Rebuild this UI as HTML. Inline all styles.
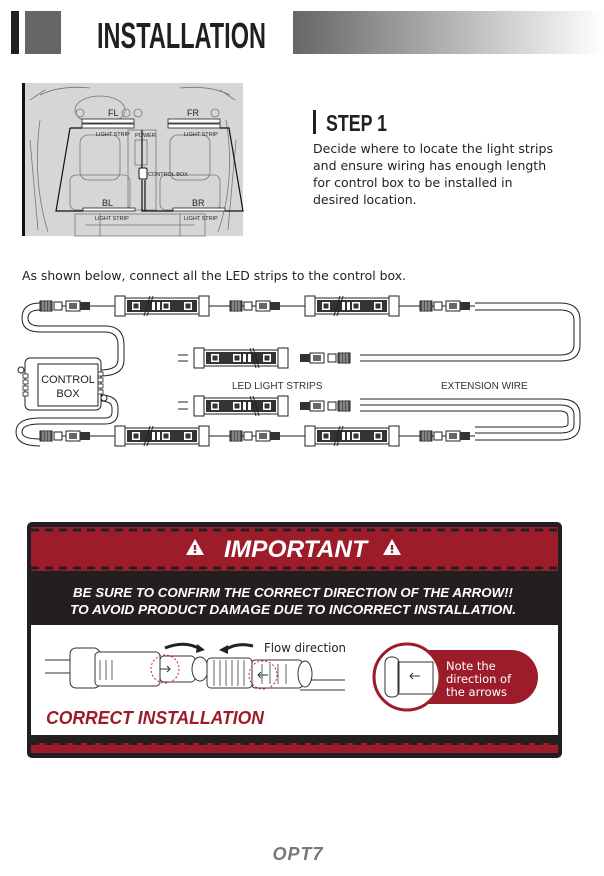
<!DOCTYPE html>
<html><head><meta charset="utf-8"><style>
html,body{margin:0;padding:0;background:#fff;width:604px;height:876px;overflow:hidden}
svg{display:block}
</style></head><body>
<svg width="604" height="876" viewBox="0 0 604 876" xmlns="http://www.w3.org/2000/svg">
<defs>
<linearGradient id="hg" x1="0" x2="1" y1="0" y2="0"><stop offset="0" stop-color="#666"/><stop offset="1" stop-color="#fff"/></linearGradient>
<g id="strip">
 <rect x="0" y="-8" width="88" height="16" fill="#fff" stroke="#222" stroke-width="1"/>
 <rect x="9" y="-6" width="70" height="12" fill="#333"/>
 <rect x="14" y="-4" width="8" height="8" fill="#fff"/><rect x="15.5" y="-2.5" width="5" height="5" fill="#333"/>
 <rect x="34" y="-4" width="3" height="8" fill="#fff"/><rect x="39" y="-4" width="3" height="8" fill="#fff"/>
 <rect x="44" y="-4" width="8" height="8" fill="#fff"/><rect x="45.5" y="-2.5" width="5" height="5" fill="#333"/>
 <rect x="66" y="-4" width="8" height="8" fill="#fff"/><rect x="67.5" y="-2.5" width="5" height="5" fill="#333"/>
 <path d="M26 10 L32 -10 M29 10 L35 -10" stroke="#222" stroke-width="1" fill="none"/>
 <rect x="-3" y="-10" width="10" height="20" fill="#fff" stroke="#222"/>
 <rect x="81" y="-10" width="10" height="20" fill="#fff" stroke="#222"/>
</g>
<g id="conn">
 <rect x="0" y="-5" width="12" height="10" fill="#555" stroke="#222"/>
 <path d="M3 -5v10M6 -5v10M9 -5v10" stroke="#ccc" stroke-width=".8"/>
 <rect x="14" y="-4" width="8" height="8" fill="#fff" stroke="#222"/>
 <rect x="26" y="-5" width="14" height="10" fill="#fff" stroke="#222"/>
 <rect x="29" y="-3" width="8" height="6" fill="#666"/>
 <rect x="40" y="-4" width="10" height="8" fill="#333"/>
</g>
<g id="warn"><path d="M0 -9 L9 7 L-9 7Z" fill="#fff"/><rect x="-1.2" y="-3" width="2.4" height="5" fill="#9d1c2a"/><rect x="-1.2" y="3" width="2.4" height="2.2" fill="#9d1c2a"/></g>
</defs>

<!-- header -->
<rect x="11" y="11" width="8" height="43" fill="#231f20"/>
<rect x="25" y="11" width="36" height="43" fill="#666"/>
<text x="97" y="48" font-family="Liberation Sans, sans-serif" font-weight="bold" font-size="36" fill="#231f20" textLength="169" lengthAdjust="spacingAndGlyphs">INSTALLATION</text>
<rect x="293" y="11" width="311" height="43" fill="url(#hg)"/>

<!-- car -->
<rect x="22" y="83" width="221" height="153" fill="#d6d6d6"/>
<rect x="22" y="83" width="3" height="153" fill="#111"/>
<g stroke="#777" stroke-width=".8" fill="none">
 <path d="M40 95 Q60 85 90 88 M180 88 Q210 85 230 95 M30 100 L45 90 M235 100 L220 90"/>
 <ellipse cx="100" cy="110" rx="25" ry="14"/>
 <circle cx="126" cy="113" r="4"/><circle cx="138" cy="113" r="4"/><circle cx="80" cy="113" r="4"/><circle cx="215" cy="113" r="4"/>
 <rect x="80" y="135" width="40" height="45" rx="8"/><rect x="170" y="135" width="40" height="45" rx="8"/>
 <rect x="70" y="175" width="60" height="35" rx="6"/><rect x="160" y="175" width="60" height="35" rx="6"/>
 <rect x="128" y="130" width="28" height="80"/><rect x="135" y="140" width="12" height="25"/>
 <path d="M40 120 Q32 180 48 232 M226 120 Q236 180 218 232 M30 140 L38 230 M236 140 L228 230"/>
 <rect x="75" y="214" width="130" height="22"/>
 <path d="M85 225 H195 M100 214 v22 M180 214 v22"/>
</g>
<g fill="#fff" stroke="#222" stroke-width=".8">
 <rect x="82" y="119" width="52" height="4"/><rect x="82" y="124" width="52" height="4"/>
 <rect x="168" y="119" width="52" height="4"/><rect x="168" y="124" width="52" height="4"/>
 <rect x="83" y="208" width="52" height="3"/><rect x="173" y="208" width="52" height="3"/>
</g>
<path d="M70 128 L82 128 M70 128 L56 211 L83 211 M220 128 L229 128 L243 211 L225 211 M142 130 L142 168 M142 180 L142 211 L173 211 M145 180 L145 211" stroke="#111" stroke-width="1.2" fill="none"/>
<rect x="139" y="168" width="8" height="11" rx="1.5" fill="#fff" stroke="#111"/>
<g font-family="Liberation Sans, sans-serif" fill="#222">
 <text x="108" y="116" font-size="9">FL</text><text x="187" y="116" font-size="9">FR</text>
 <text x="96" y="136" font-size="5.5">LIGHT STRIP</text><text x="184" y="136" font-size="5.5">LIGHT STRIP</text>
 <text x="135" y="137" font-size="5.5">POWER</text><text x="148" y="176" font-size="5.5">CONTROL BOX</text>
 <text x="102" y="206" font-size="9">BL</text><text x="192" y="206" font-size="9">BR</text>
 <text x="95" y="220" font-size="5.5">LIGHT STRIP</text><text x="184" y="220" font-size="5.5">LIGHT STRIP</text>
</g>

<!-- step 1 -->
<rect x="313" y="110" width="3" height="24" fill="#231f20"/>
<text x="326" y="131" font-family="Liberation Sans, sans-serif" font-weight="bold" font-size="23" fill="#231f20" textLength="61" lengthAdjust="spacingAndGlyphs">STEP 1</text>
<g font-family="DejaVu Sans, sans-serif" font-size="12.5" fill="#231f20">
 <text x="313" y="153" textLength="240" lengthAdjust="spacingAndGlyphs">Decide where to locate the light strips</text>
 <text x="313" y="170">and ensure wiring has enough length</text>
 <text x="313" y="187">for control box to be installed in</text>
 <text x="313" y="204">desired location.</text>
</g>
<text x="22" y="280" font-family="DejaVu Sans, sans-serif" font-size="12.5" fill="#231f20" textLength="384" lengthAdjust="spacingAndGlyphs">As shown below, connect all the LED strips to the control box.</text>

<!-- wiring diagram -->
<g fill="none" stroke="#222" stroke-width="1">
 <path d="M40 303 Q22 303 22 318 Q22 332 40 332 L105 332 Q118 332 118 345 L118 360 Q118 370 100 370"/>
 <path d="M40 310 Q28 310 28 318 Q28 326 40 326 L105 326 Q124 326 124 345 L124 360 Q124 376 100 376"/>
 <path d="M100 395 Q118 395 118 408 L118 412 Q118 424 105 424 L40 424 Q22 424 22 432 Q22 439 40 439"/>
 <path d="M100 401 Q112 401 112 408 L112 412 Q112 418 105 418 L40 418 Q16 418 16 432 Q16 446 40 446"/>
 <path d="M475 303 L560 303 Q580 303 580 320 L580 345 Q580 361 560 361 L360 361"/>
 <path d="M475 310 L560 310 Q574 310 574 320 L574 345 Q574 355 560 355 L360 355"/>
 <path d="M360 405 L560 405 Q574 405 574 415 L574 425 Q574 433 560 433 L475 433"/>
 <path d="M360 411 L560 411 Q568 411 568 418 L568 424 Q568 427 560 427 L475 427 M475 440 L560 440 Q580 440 580 424 L580 415 Q580 399 560 399 L360 399"/>
 <path d="M178 355 L188 355 M178 361 L188 361 M178 402 L188 402 M178 409 L188 409"/>
 <path d="M60 306 L115 306 M203 306 L305 306 M393 306 L475 306 M60 436 L115 436 M203 436 L305 436 M393 436 L475 436"/>
</g>
<rect x="25" y="358" width="76" height="52" rx="5" fill="#fff" stroke="#222"/>
<rect x="38" y="364" width="60" height="42" fill="#fff" stroke="#222"/>
<circle cx="21" cy="370" r="3" fill="#fff" stroke="#222"/><circle cx="104" cy="398" r="3" fill="#fff" stroke="#222"/>
<g fill="#fff" stroke="#222" stroke-width=".8"><rect x="23" y="374" width="5" height="4"/><rect x="23" y="380" width="5" height="4"/><rect x="23" y="386" width="5" height="4"/><rect x="23" y="392" width="5" height="4"/><rect x="98" y="372" width="5" height="4"/><rect x="98" y="378" width="5" height="4"/><rect x="98" y="384" width="5" height="4"/><rect x="98" y="390" width="5" height="4"/></g>
<text x="68" y="383" text-anchor="middle" font-family="Liberation Sans, sans-serif" font-size="11" fill="#222">CONTROL</text>
<text x="68" y="397" text-anchor="middle" font-family="Liberation Sans, sans-serif" font-size="11" fill="#222">BOX</text>

<use href="#conn" x="40" y="306"/><use href="#conn" x="230" y="306"/><use href="#conn" x="420" y="306"/>
<use href="#conn" x="40" y="436"/><use href="#conn" x="230" y="436"/><use href="#conn" x="420" y="436"/>
<use href="#conn" transform="translate(350,358) scale(-1,1)" /><use href="#conn" transform="translate(350,406) scale(-1,1)"/>
<use href="#strip" x="118" y="306"/><use href="#strip" x="308" y="306"/>
<use href="#strip" x="118" y="436"/><use href="#strip" x="308" y="436"/>
<use href="#strip" transform="translate(285,358) scale(-1,1)"/><use href="#strip" transform="translate(285,406) scale(-1,1)"/>
<text x="232" y="389" font-family="Liberation Sans, sans-serif" font-size="10" fill="#333">LED LIGHT STRIPS</text>
<text x="441" y="389" font-family="Liberation Sans, sans-serif" font-size="10" fill="#333">EXTENSION WIRE</text>

<!-- important box -->
<rect x="27" y="522" width="535" height="236" rx="5" fill="#231f20"/>
<rect x="31" y="527" width="527" height="44" fill="#9d1c2a"/>
<path d="M31 530 H558 M31 568 H558" stroke="#231f20" stroke-width="3" stroke-dasharray="8 6"/>
<use href="#warn" x="195" y="548"/><use href="#warn" x="392" y="548"/>
<text x="224" y="557" font-family="Liberation Sans, sans-serif" font-weight="bold" font-style="italic" font-size="24" fill="#fff" textLength="143" lengthAdjust="spacingAndGlyphs">IMPORTANT</text>
<g font-family="Liberation Sans, sans-serif" font-weight="bold" font-style="italic" font-size="13.3" fill="#fff">
 <text x="73" y="597" textLength="440" lengthAdjust="spacingAndGlyphs">BE SURE TO CONFIRM THE CORRECT DIRECTION OF THE ARROW!!</text>
 <text x="70" y="614" textLength="446" lengthAdjust="spacingAndGlyphs">TO AVOID PRODUCT DAMAGE DUE TO INCORRECT INSTALLATION.</text>
</g>
<rect x="31" y="625" width="527" height="110" fill="#fff"/>
<rect x="31" y="743" width="527" height="10" fill="#9d1c2a"/>
<path d="M31 744 H558" stroke="#231f20" stroke-width="2" stroke-dasharray="8 6"/>
<g fill="#fff" stroke="#333" stroke-width="1">
 <path d="M45 660 H75 M45 673 H75 M300 680 H345 M300 690 H345"/>
 <rect x="70" y="648" width="30" height="40" rx="6"/>
 <rect x="95" y="652" width="65" height="34" rx="4"/>
 <rect x="160" y="656" width="35" height="26" rx="4"/>
 <ellipse cx="200" cy="669" rx="8" ry="12"/>
 <rect x="207" y="658" width="45" height="30" rx="4"/>
 <rect x="252" y="660" width="50" height="28" rx="3"/>
 <ellipse cx="305" cy="674" rx="7" ry="13"/>
</g>
<g stroke="#666" stroke-width="1"><path d="M100 660v20M106 660v20M112 660v20M214 660v26M220 660v26M226 660v26M232 660v26M238 660v26M244 660v26M262 664v20M270 664v20M278 664v20M286 664v20"/></g>
<circle cx="165" cy="669" r="14" fill="none" stroke="#c23" stroke-dasharray="2 2"/>
<circle cx="263" cy="675" r="14" fill="none" stroke="#c23" stroke-dasharray="2 2"/>
<path d="M160 669 h10 M167 666 l3 3 -3 3 M268 675 h-10 M261 672 l-3 3 3 3" stroke="#333" fill="none"/>
<path d="M165 648 Q185 640 200 649" stroke="#222" stroke-width="3" fill="none"/><path d="M197 644 L205 650 L196 653Z" fill="#222"/>
<path d="M253 646 Q237 642 225 650" stroke="#222" stroke-width="3" fill="none"/><path d="M228 645 L219 650 L228 654Z" fill="#222"/>
<text x="264" y="652" font-family="DejaVu Sans, sans-serif" font-size="12.5" fill="#231f20" textLength="82" lengthAdjust="spacingAndGlyphs">Flow direction</text>
<text x="46" y="724" font-family="Liberation Sans, sans-serif" font-weight="bold" font-style="italic" font-size="18" fill="#9d1c2a" textLength="218" lengthAdjust="spacingAndGlyphs">CORRECT INSTALLATION</text>
<rect x="400" y="650" width="138" height="54" rx="27" fill="#9d1c2a"/>
<circle cx="407" cy="677" r="33" fill="#fff" stroke="#9d1c2a" stroke-width="3"/>
<g stroke="#333" fill="none"><rect x="385" y="657" width="14" height="40" rx="6"/><rect x="398" y="662" width="35" height="32"/><path d="M420 676 h-10 M413 673 l-3 3 3 3"/></g>
<g font-family="DejaVu Sans, sans-serif" font-size="11.5" fill="#fff">
 <text x="446" y="670">Note the</text><text x="446" y="683">direction of</text><text x="446" y="696">the arrows</text>
</g>

<text x="298" y="860" text-anchor="middle" font-family="Liberation Sans, sans-serif" font-weight="bold" font-style="italic" font-size="18" fill="#777" letter-spacing="1">OPT7</text>
</svg>
</body></html>
